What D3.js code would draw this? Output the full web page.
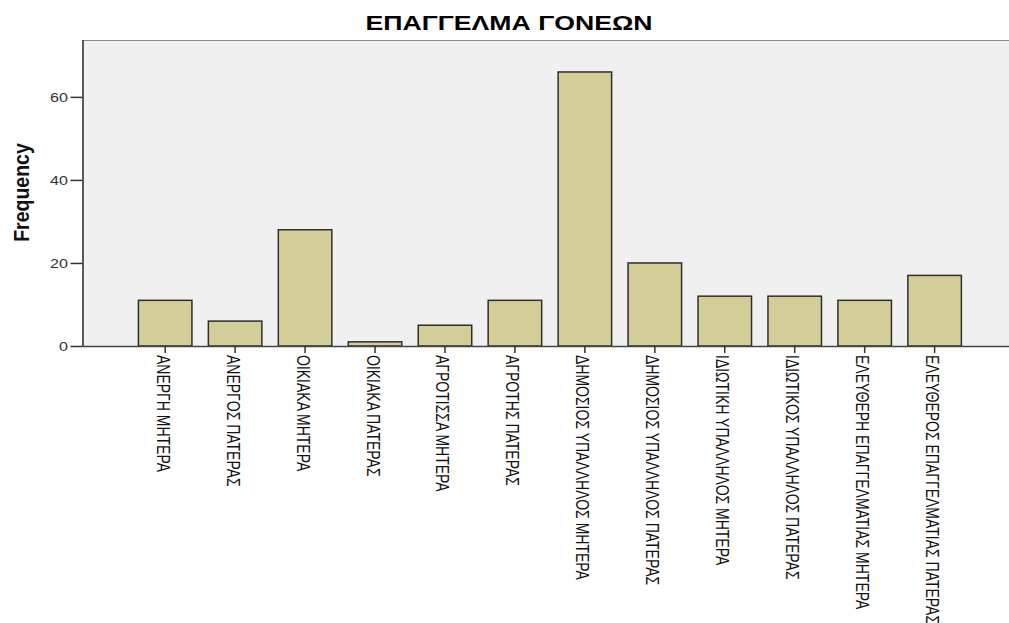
<!DOCTYPE html>
<html>
<head>
<meta charset="utf-8">
<script src="https://cdn.jsdelivr.net/npm/d3@7/dist/d3.min.js"></script>
<style>
  html, body { margin: 0; padding: 0; background: #ffffff; }
  svg { display: block; }
</style>
</head>
<body>
<script>
const title = "ΕΠΑΓΓΕΛΜΑ ΓΟΝΕΩΝ";
const yLabel = "Frequency";
const categories = [
  "ΑΝΕΡΓΗ ΜΗΤΕΡΑ",
  "ΑΝΕΡΓΟΣ ΠΑΤΕΡΑΣ",
  "ΟΙΚΙΑΚΑ ΜΗΤΕΡΑ",
  "ΟΙΚΙΑΚΑ ΠΑΤΕΡΑΣ",
  "ΑΓΡΟΤΙΣΣΑ ΜΗΤΕΡΑ",
  "ΑΓΡΟΤΗΣ ΠΑΤΕΡΑΣ",
  "ΔΗΜΟΣΙΟΣ ΥΠΑΛΛΗΛΟΣ ΜΗΤΕΡΑ",
  "ΔΗΜΟΣΙΟΣ ΥΠΑΛΛΗΛΟΣ ΠΑΤΕΡΑΣ",
  "ΙΔΙΩΤΙΚΗ ΥΠΑΛΛΗΛΟΣ ΜΗΤΕΡΑ",
  "ΙΔΙΩΤΙΚΟΣ ΥΠΑΛΛΗΛΟΣ ΠΑΤΕΡΑΣ",
  "ΕΛΕΥΘΕΡΗ ΕΠΑΓΓΕΛΜΑΤΙΑΣ ΜΗΤΕΡΑ",
  "ΕΛΕΥΘΕΡΟΣ ΕΠΑΓΓΕΛΜΑΤΙΑΣ ΠΑΤΕΡΑΣ"
];
const values = [11, 6, 28, 1, 5, 11, 66, 20, 12, 12, 11, 17];
const yTicks = [0, 20, 40, 60];
const yMax = 73.7;

const W = 1009, H = 623;
const plotLeft = 82.5, plotTop = 40, plotBottom = 346, plotRight = 1015;

const svg = d3.select("body").append("svg")
  .attr("width", W).attr("height", H);

const x = d3.scaleBand()
  .domain(categories)
  .range([130.2, 969.6])
  .paddingInner(0.235)
  .paddingOuter(0.1175);

const y = d3.scaleLinear()
  .domain([0, yMax])
  .range([plotBottom, plotTop]);

// plot background
svg.append("rect")
  .attr("x", plotLeft).attr("y", plotTop)
  .attr("width", plotRight - plotLeft).attr("height", plotBottom - plotTop)
  .attr("fill", "#f0f0f0");

// top border
svg.append("line")
  .attr("x1", plotLeft).attr("x2", plotRight)
  .attr("y1", plotTop + 0.5).attr("y2", plotTop + 0.5)
  .attr("stroke", "#8a8a8a").attr("stroke-width", 1.2);

// bars
svg.append("g").selectAll("rect")
  .data(values)
  .join("rect")
  .attr("x", (d, i) => x(categories[i]))
  .attr("y", d => y(d))
  .attr("width", x.bandwidth())
  .attr("height", d => y(0) - y(d))
  .attr("fill", "#d3ce98")
  .attr("stroke", "#2e2e2e")
  .attr("stroke-width", 1.5);

// y axis
const yAxis = svg.append("g")
  .attr("transform", `translate(${plotLeft},0)`)
  .call(d3.axisLeft(y).tickValues(yTicks).tickSize(12).tickSizeOuter(0).tickFormat(d3.format("d")));
yAxis.select(".domain").attr("stroke", "#333").attr("stroke-width", 1.6)
  .attr("d", `M0.5,${plotTop}V${plotBottom}`);
yAxis.selectAll(".tick line").attr("stroke", "#333").attr("stroke-width", 1.5);
yAxis.selectAll(".tick text")
  .attr("x", null).attr("dy", "0.35em")
  .attr("text-anchor", "end")
  .attr("transform", "translate(-14.5,0) scale(1.24,1)")
  .attr("fill", "#333")
  .style("font-family", "'Liberation Sans', Arial, sans-serif")
  .style("font-size", "13px");

// x axis
const xAxis = svg.append("g")
  .attr("transform", `translate(0,${plotBottom})`)
  .call(d3.axisBottom(x).tickSize(7).tickSizeOuter(0));
xAxis.select(".domain").attr("stroke", "#444").attr("stroke-width", 1.6)
  .attr("d", `M${plotLeft},0.5H${plotRight}`);
xAxis.selectAll(".tick line").attr("stroke", "#333").attr("stroke-width", 1.5);
xAxis.selectAll(".tick text")
  .attr("y", null).attr("dy", null)
  .attr("text-anchor", "start")
  .attr("transform", "translate(-8.5,9) scale(1.3,1) rotate(90)")
  .attr("fill", "#111")
  .style("font-family", "'Liberation Sans', Arial, sans-serif")
  .style("font-size", "14px");

// title
svg.append("text")
  .attr("transform", "translate(509,30) scale(1.3,1)")
  .attr("text-anchor", "middle")
  .attr("fill", "#000")
  .style("font-family", "'Liberation Sans', Arial, sans-serif")
  .style("font-weight", "bold")
  .style("font-size", "20.5px")
  .text(title);

// y label
svg.append("text")
  .attr("transform", "translate(29,192.5) scale(1.13,1) rotate(-90)")
  .attr("text-anchor", "middle")
  .attr("fill", "#111")
  .style("font-family", "'Liberation Sans', Arial, sans-serif")
  .style("font-weight", "bold")
  .style("font-size", "19.5px")
  .text(yLabel);
</script>
</body>
</html>
